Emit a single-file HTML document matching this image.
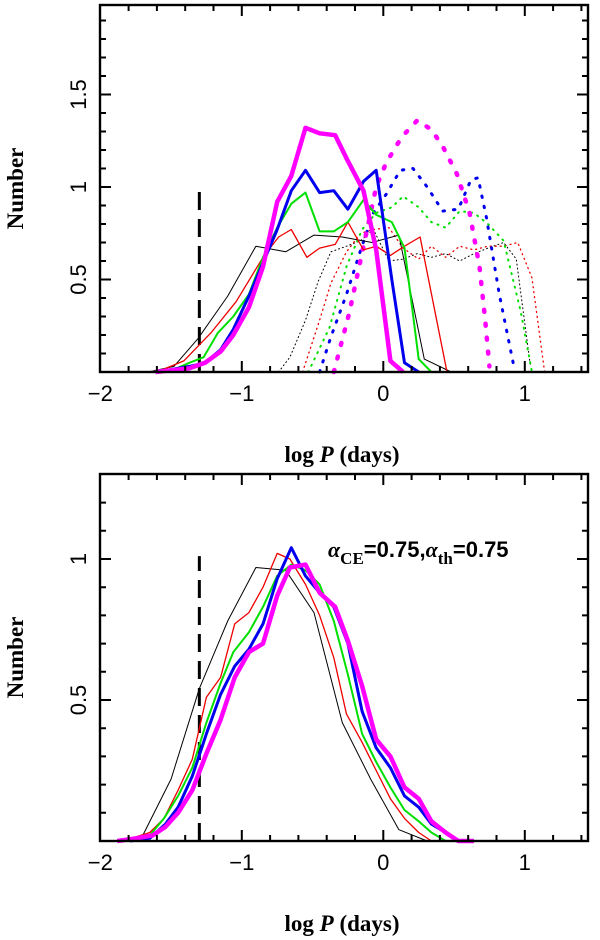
<!DOCTYPE html>
<html><head><meta charset="utf-8"><style>
html,body{margin:0;padding:0;background:#fff;}
svg{display:block;}
.tl{font-family:"Liberation Sans",sans-serif;font-size:22px;fill:#000;}
.tt{font-family:"Liberation Serif",serif;font-size:23px;font-weight:bold;fill:#000;}
</style></head><body>
<svg id="chart" width="600" height="940" viewBox="0 0 600 940" xmlns="http://www.w3.org/2000/svg"></svg>
<script>
// ---- data: top panel (solid = one population, dotted = another) ----
const topBlackX=[-1.66,-1.48,-1.31,-1.10,-0.90,-0.69,-0.49,-0.29,-0.08,0.11,0.29,0.48];
const topBlackY=[0,0.03,0.18,0.41,0.68,0.65,0.74,0.73,0.70,0.74,0.07,0];
const topRedX=[-1.60,-1.41,-1.22,-1.04,-0.85,-0.74,-0.65,-0.54,-0.45,-0.34,-0.25,-0.14,-0.05,0.05,0.15,0.26,0.45];
const topRedY=[0,0.06,0.21,0.38,0.62,0.73,0.77,0.62,0.67,0.69,0.81,0.66,0.68,0.63,0.68,0.73,0];
const topGreenX=[-1.6,-1.46,-1.37,-1.27,-1.17,-1.06,-0.95,-0.85,-0.75,-0.65,-0.55,-0.45,-0.35,-0.25,-0.14,-0.05,0.06,0.15,0.25,0.34];
const topGreenY=[0,0.02,0.05,0.08,0.21,0.30,0.42,0.62,0.78,0.91,0.97,0.76,0.76,0.81,0.93,0.85,0.81,0.67,0.07,0];
const topBlueX=[-1.6,-1.37,-1.26,-1.15,-1.06,-0.95,-0.85,-0.75,-0.65,-0.55,-0.45,-0.35,-0.25,-0.14,-0.05,0.06,0.15,0.25];
const topBlueY=[0,0.03,0.05,0.12,0.23,0.41,0.59,0.77,0.98,1.09,0.97,0.98,0.88,1.03,1.09,0.50,0.05,0];
const topMagX=[-1.61,-1.37,-1.26,-1.15,-1.06,-0.95,-0.85,-0.75,-0.65,-0.55,-0.45,-0.34,-0.25,-0.14,-0.05,0.05,0.14];
const topMagY=[0,0.02,0.05,0.11,0.20,0.35,0.57,0.92,1.06,1.32,1.29,1.28,1.14,0.98,0.66,0.06,0];
const dotBlackX=[-0.74,-0.66,-0.55,-0.46,-0.37,-0.26,-0.16,-0.07,0.04,0.14,0.24,0.34,0.44,0.54,0.64,0.74,0.85,0.94,1.04];
const dotBlackY=[0,0.08,0.28,0.49,0.65,0.68,0.71,0.77,0.60,0.61,0.64,0.62,0.64,0.60,0.64,0.67,0.70,0.61,0.03];
const dotRedX=[-0.57,-0.45,-0.37,-0.26,-0.16,-0.07,0.04,0.14,0.25,0.34,0.44,0.54,0.64,0.74,0.85,0.95,1.05,1.14];
const dotRedY=[0,0.28,0.48,0.65,0.75,0.77,0.78,0.67,0.61,0.68,0.62,0.68,0.66,0.68,0.68,0.70,0.51,0];
const dotGreenX=[-0.53,-0.38,-0.26,-0.15,-0.05,0.06,0.14,0.25,0.34,0.44,0.54,0.64,0.74,0.85,0.97,1.05];
const dotGreenY=[0,0.24,0.57,0.77,0.86,0.89,0.95,0.89,0.81,0.78,0.87,0.86,0.80,0.71,0.33,0];
const dotBlueX=[-0.45,-0.37,-0.26,-0.16,-0.07,0.02,0.12,0.21,0.31,0.42,0.53,0.62,0.67,0.73,0.82,0.92];
const dotBlueY=[0,0.19,0.42,0.66,0.86,0.96,1.09,1.10,1.00,0.87,0.88,1.04,1.05,0.83,0.42,0.04];
const dotMagX=[-0.35,-0.24,-0.14,-0.05,0.02,0.13,0.24,0.34,0.42,0.52,0.61,0.68,0.72,0.75];
const dotMagY=[0,0.32,0.68,1.0,1.13,1.27,1.36,1.31,1.22,1.07,0.86,0.57,0.28,0.03];
// ---- data: bottom panel ----
const botBlackX=[-1.88,-1.70,-1.50,-1.30,-1.10,-0.90,-0.69,-0.49,-0.29,-0.09,0.11,0.31];
const botBlackY=[0,0.02,0.22,0.54,0.78,0.97,0.96,0.81,0.42,0.22,0.04,0];
const botRedX=[-1.84,-1.65,-1.55,-1.45,-1.35,-1.25,-1.15,-1.05,-0.95,-0.85,-0.75,-0.66,-0.55,-0.45,-0.35,-0.26,-0.15,-0.05,0.05,0.15,0.25,0.34];
const botRedY=[0,0.03,0.08,0.18,0.29,0.51,0.58,0.77,0.81,0.90,1.02,1.00,0.91,0.80,0.65,0.45,0.35,0.25,0.15,0.08,0.03,0];
const botGreenX=[-1.79,-1.65,-1.55,-1.45,-1.35,-1.25,-1.15,-1.06,-0.95,-0.85,-0.75,-0.65,-0.55,-0.45,-0.35,-0.25,-0.15,-0.05,0.05,0.15,0.25,0.34,0.44];
const botGreenY=[0,0.02,0.08,0.16,0.26,0.42,0.56,0.67,0.74,0.83,0.94,0.98,0.96,0.91,0.78,0.59,0.38,0.28,0.19,0.11,0.07,0.03,0];
const botBlueX=[-1.79,-1.65,-1.54,-1.45,-1.35,-1.25,-1.15,-1.05,-0.95,-0.85,-0.75,-0.65,-0.55,-0.45,-0.35,-0.25,-0.15,-0.05,0.05,0.15,0.25,0.34,0.44,0.53];
const botBlueY=[0,0.01,0.06,0.12,0.23,0.38,0.52,0.62,0.68,0.77,0.93,1.04,0.94,0.88,0.83,0.70,0.46,0.33,0.26,0.16,0.12,0.06,0.03,0];
const botMagX=[-1.88,-1.74,-1.63,-1.54,-1.45,-1.35,-1.25,-1.15,-1.05,-0.95,-0.85,-0.75,-0.66,-0.55,-0.45,-0.34,-0.25,-0.15,-0.05,0.05,0.15,0.25,0.34,0.44,0.53,0.64];
const botMagY=[0,0.01,0.02,0.05,0.10,0.18,0.31,0.43,0.58,0.67,0.70,0.87,0.97,0.98,0.88,0.83,0.71,0.55,0.36,0.30,0.19,0.15,0.07,0.03,0,0];
const xTickLabels=["\u22122","\u22121","0","1"];
const xTickValues=[-2,-1,0,1];
const topYTickValues=[0.5,1,1.5];
const topYTickLabels=["0.5","1","1.5"];
const botYTickValues=[0.5,1];
const botYTickLabels=["0.5","1"];
const cutoffLogP=-1.3;
const topCutoffHeight=1.0;
const botCutoffHeight=1.01;

const NS="http://www.w3.org/2000/svg";
const svg=document.getElementById('chart');
function mk(tag,attrs,parent){const e=document.createElementNS(NS,tag);for(const k in attrs)e.setAttribute(k,attrs[k]);(parent||svg).appendChild(e);return e;}
const L=100,R=588;
function xs(v){return 383.3+v*141.5;}
function panel(top,bottom,ymax,pxPerUnit,name){
  const g=mk('g',{});
  
  
  const ys=v=>bottom-v*pxPerUnit;
  return {g,ys,top,bottom,pxPerUnit,ymax};
}
function axes(p,yTickVals,yTickLabs,prefix){
  const g=p.g;
  const fr=mk('rect',{x:L,y:p.top,width:R-L,height:p.bottom-p.top,fill:'none',stroke:'#000','stroke-width':2.4},g);
  
  
  let d='';
  for(let i=-20;i<=14;i+=2){const v=i/10;const x=xs(v);if(x<L+1||x>R-1)continue;const major=(i%10===0);const len=major?11:6;
    d+=`M${x} ${p.bottom}v${-len}M${x} ${p.top}v${len}`;}
  for(let i=1;i*0.1<p.ymax;i++){const y=p.ys(i*0.1);if(y<p.top+1)continue;const major=(i%5===0);const len=major?11:6;
    d+=`M${L} ${y}h${len}M${R} ${y}h${-len}`;}
  const t=mk('path',{d:d,stroke:'#000','stroke-width':2,fill:'none'},g);
  
  
  xTickValues.forEach((v,i)=>{
    const tx=mk('text',{x:xs(v),y:p.bottom+29,'text-anchor':'middle',class:'tl'},g);
    tx.textContent=xTickLabels[i];
    
    
  });
  yTickVals.forEach((v,i)=>{
    const y=p.ys(v);
    const tx=mk('text',{x:0,y:0,'text-anchor':'middle',class:'tl',transform:`translate(86 ${y}) rotate(-90)`},g);
    tx.textContent=yTickLabs[i];
    
    
  });
  const yt=mk('text',{x:0,y:0,'text-anchor':'middle',class:'tt','font-size':'25',transform:`translate(23 ${(p.top+p.bottom)/2}) rotate(-90)`},g);
  yt.textContent='Number';
  
  
  const xt=mk('text',{x:342,y:p.bottom+90,'text-anchor':'middle',class:'tt'},g);
  xt.innerHTML='log <tspan font-style="italic">P</tspan>  (days)';
  xt.setAttribute('xml:space','preserve');
  
  
}
function series(p,X,Y,color,w,dash,name){
  const pts=X.map((x,i)=>xs(x).toFixed(1)+','+p.ys(Y[i]).toFixed(1)).join(' ');
  const a={points:pts,fill:'none',stroke:color,'stroke-width':w,'stroke-linejoin':'round'};
  if(dash){a['stroke-dasharray']=dash;a['stroke-linecap']='round';}
  const pl=mk('polyline',a,p.g);
  
  
}
function cutoff(p,h,name){
  const l=mk('line',{x1:xs(cutoffLogP),x2:xs(cutoffLogP),y1:p.bottom,y2:p.ys(h),stroke:'#000','stroke-width':3,'stroke-dasharray':'18 9'},p.g);
  
  
}
const MAG='#ff00ff',BLU='#0000ee',GRN='#00e000',RED='#ee0000',BLK='#000';
// top
const pt=panel(5,372,1.98,185,'top-panel');
cutoff(pt,topCutoffHeight,'top-cutoff-line');
series(pt,dotBlackX,dotBlackY,BLK,1,'1 3','top-dotted-black');
series(pt,dotRedX,dotRedY,RED,1.3,'1 4','top-dotted-red');
series(pt,dotGreenX,dotGreenY,GRN,2,'1 6','top-dotted-green');
series(pt,dotBlueX,dotBlueY,BLU,3,'1.5 9','top-dotted-blue');
series(pt,dotMagX,dotMagY,MAG,4.5,'2 12','top-dotted-magenta');
series(pt,topBlackX,topBlackY,BLK,1,null,'top-solid-black');
series(pt,topRedX,topRedY,RED,1.3,null,'top-solid-red');
series(pt,topGreenX,topGreenY,GRN,2,null,'top-solid-green');
series(pt,topBlueX,topBlueY,BLU,3,null,'top-solid-blue');
series(pt,topMagX,topMagY,MAG,4.5,null,'top-solid-magenta');
axes(pt,topYTickValues,topYTickLabels,'top');
// bottom
const pb=panel(474,841,1.3,282,'bottom-panel');
cutoff(pb,botCutoffHeight,'bottom-cutoff-line');
series(pb,botBlackX,botBlackY,BLK,1,null,'bottom-black');
series(pb,botRedX,botRedY,RED,1.3,null,'bottom-red');
series(pb,botGreenX,botGreenY,GRN,2,null,'bottom-green');
series(pb,botBlueX,botBlueY,BLU,3,null,'bottom-blue');
series(pb,botMagX,botMagY,MAG,4.5,null,'bottom-magenta');
axes(pb,botYTickValues,botYTickLabels,'bottom');
const ann=mk('text',{x:328,y:557,class:'tl','font-weight':'bold','font-size':'26'},pb.g);
ann.innerHTML='<tspan font-family="Liberation Serif" font-style="italic">α</tspan><tspan font-family="Liberation Serif" font-size="17" dy="7">CE</tspan><tspan dy="-7">=0.75,</tspan><tspan font-family="Liberation Serif" font-style="italic">α</tspan><tspan font-family="Liberation Serif" font-size="17" dy="7">th</tspan><tspan dy="-7">=0.75</tspan>';


</script>
</body></html>
